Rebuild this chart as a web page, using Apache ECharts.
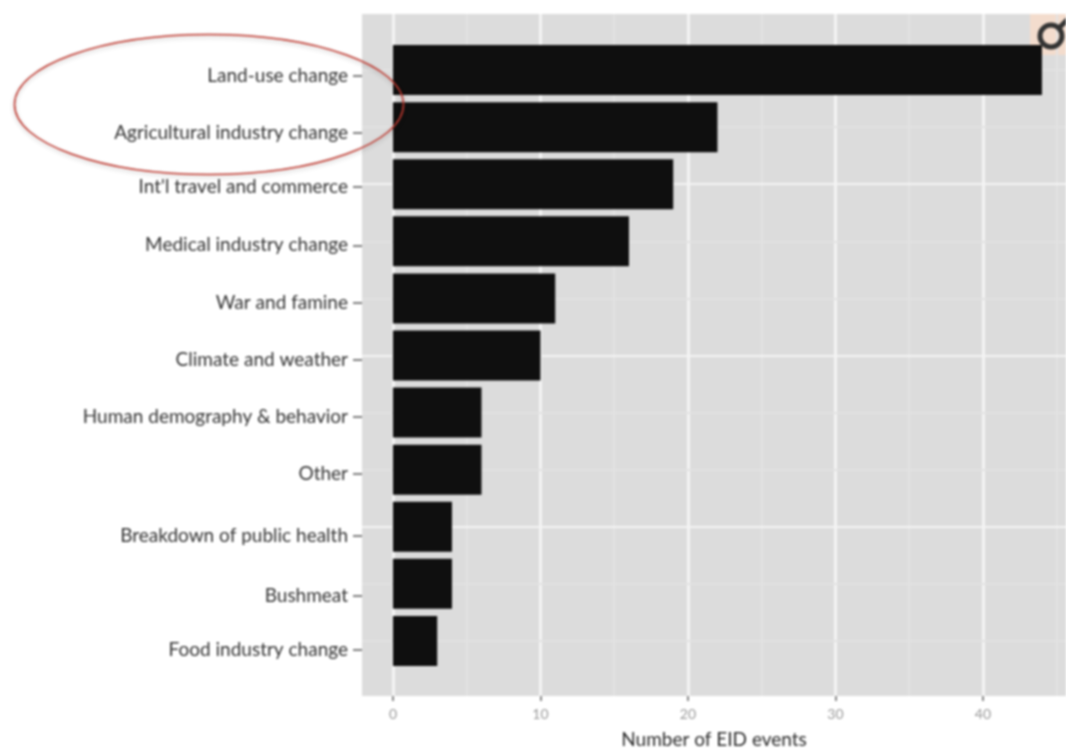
<!DOCTYPE html>
<html lang="en">

<head>
    <meta charset="UTF-8">
    <title>Number of EID events</title>
    <script src="https://cdn.jsdelivr.net/npm/echarts@6/dist/echarts.min.js"></script>
</head>
<style>
    html, body {
        margin: 0;
        background: #fff;
    }
    #main {
        width: 1066px;
        height: 748px;
        filter: blur(0.8px);
    }
</style>

<body>
    <div id="main"></div>
</body>
<script>
    const categories = ['Land-use change', 'Agricultural industry change', "Int'l travel and commerce",
        'Medical industry change', 'War and famine', 'Climate and weather', 'Human demography & behavior',
        'Other', 'Breakdown of public health', 'Bushmeat', 'Food industry change'];
    const events = [44, 22, 19, 16, 11, 10, 6, 6, 4, 4, 3];
    const xTicks = [0, 10, 20, 30, 40];
    const xMinor = [5, 15, 25, 35, 45];

    // the labels were retyped in the original slide, so they sit a bit below their bars
    const labelNudge = [0.1, 0.1, 0.04, 0.07, 0.07, 0.07, 0.07, 0.07, 0.16, 0.21, 0.16];
    const labelRanks = categories.map((c, i) => i + 1 + labelNudge[i]);
    const strongRows = [3, 6, 9];

    const xMin = -2.1, xMax = 45.63;

    let gridLines = [];
    xTicks.forEach(v => gridLines.push({ xAxis: v, lineStyle: { color: '#f4f4f4', width: 3, type: 'solid' } }));
    xMinor.forEach(v => gridLines.push({ xAxis: v, lineStyle: { color: '#e3e3e3', width: 2, type: 'solid' } }));
    categories.forEach((c, i) => {
        let strong = strongRows.includes(i + 1);
        gridLines.push({ yAxis: i + 1, lineStyle: { color: strong ? '#f4f4f4' : '#e2e2e2', width: 2, type: 'solid' } });
    });

    let myChart = echarts.init(document.getElementById('main'));
    let option = {
        animation: false,
        grid: [
            { left: 362, top: 14, width: 704, height: 682, show: true, backgroundColor: '#dcdcdc', borderWidth: 0, outerBoundsMode: 'none' },
            { left: 362, top: 41.5, width: 704, height: 628, show: false, outerBoundsMode: 'none' }
        ],
        xAxis: [
            {
                gridIndex: 0,
                type: 'value',
                min: xMin,
                max: xMax,
                name: 'Number of EID events',
                nameLocation: 'middle',
                nameGap: 34,
                nameTextStyle: { fontFamily: 'Lato', fontSize: 19, color: '#2a2a2a' },
                axisLine: { show: false, onZero: false },
                axisTick: { show: true, length: 5, customValues: xTicks, lineStyle: { color: '#888', width: 2 } },
                axisLabel: {
                    customValues: xTicks,
                    margin: 11,
                    fontFamily: 'Lato',
                    fontSize: 14,
                    color: '#999'
                },
                splitLine: { show: false }
            },
            {
                gridIndex: 1,
                type: 'value',
                min: xMin,
                max: xMax,
                show: false
            }
        ],
        yAxis: [
            {
                gridIndex: 0,
                type: 'value',
                inverse: true,
                min: 0.019,
                max: 11.963,
                axisLine: { show: false, onZero: false },
                axisTick: { show: true, length: 9, customValues: labelRanks, lineStyle: { color: '#555', width: 1.5 } },
                axisLabel: {
                    customValues: labelRanks,
                    margin: 14,
                    fontFamily: 'Lato',
                    fontSize: 19,
                    color: '#333',
                    formatter: value => categories[Math.floor(value) - 1]
                },
                splitLine: { show: false }
            },
            {
                gridIndex: 1,
                type: 'category',
                inverse: true,
                data: categories,
                show: false
            }
        ],
        series: [
            {
                name: 'grid lines',
                type: 'line',
                xAxisIndex: 0,
                yAxisIndex: 0,
                data: [],
                z: 1,
                silent: true,
                markLine: { z: 1, silent: true, symbol: 'none', label: { show: false }, data: gridLines }
            },
            {
                name: 'EID events',
                type: 'bar',
                xAxisIndex: 1,
                yAxisIndex: 1,
                data: events,
                barWidth: 50,
                z: 3,
                itemStyle: { color: '#0f0f0f' }
            }
        ],
        graphic: [
            { type: 'rect', z: 1, shape: { x: 1030, y: 14, width: 36, height: 41 }, style: { fill: '#f3dccd' } },
            { type: 'circle', z: 10, shape: { cx: 1051, cy: 36, r: 11 }, style: { fill: 'none', stroke: '#333', lineWidth: 5 } },
            { type: 'line', z: 10, shape: { x1: 1059, y1: 28, x2: 1070, y2: 17 }, style: { stroke: '#333', lineWidth: 5 } },
            {
                type: 'ellipse',
                z: 20,
                shape: { cx: 209, cy: 104.5, rx: 194.5, ry: 70 },
                style: {
                    fill: 'none',
                    stroke: '#c0392f',
                    lineWidth: 1.5,
                    shadowColor: 'rgba(0,0,0,0.25)',
                    shadowBlur: 4,
                    shadowOffsetY: 2
                }
            }
        ]
    };

    myChart.setOption(option);
</script>

</html>
